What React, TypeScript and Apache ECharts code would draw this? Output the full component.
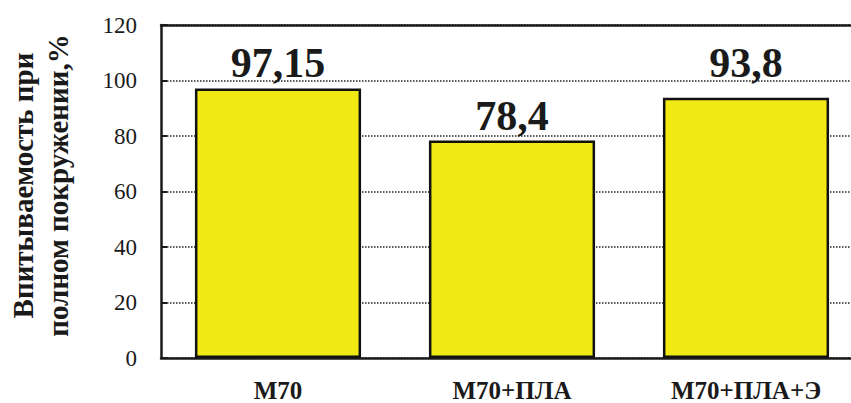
import React, { useEffect, useRef } from "react";
import * as echarts from "echarts";

const categories = ["M70", "M70+ПЛА", "M70+ПЛА+Э"];
const values = [97.15, 78.4, 93.8];
const valueLabels = ["97,15", "78,4", "93,8"];
const yTitle = "Впитываемость при\nполном покружении,%";

const FONT = "serif";

export default function App() {
  const ref = useRef<HTMLDivElement>(null);
  useEffect(() => {
    if (!ref.current) return;
    const chart = echarts.init(ref.current, null, { renderer: "svg" });
    const labelDist = [4, 3, 14];
    chart.setOption({
      animation: false,
      backgroundColor: "#ffffff",
      textStyle: { fontFamily: FONT },
      grid: { left: 161, top: 25, bottom: 45, right: 0, outerBoundsMode: "none", containLabel: false },
      xAxis: [
        {
          type: "category",
          data: categories,
          axisLine: { show: true, lineStyle: { color: "#1a1a1a", width: 2.5 } },
          axisTick: { show: false },
          axisLabel: {
            margin: 20,
            fontFamily: FONT,
            fontWeight: "bold",
            fontSize: 25,
            color: "#1a1a1a",
          },
        },
        {
          type: "category",
          position: "top",
          data: categories,
          axisLine: { show: true, lineStyle: { color: "#1a1a1a", width: 2.5 } },
          axisTick: { show: false },
          axisLabel: { show: false },
        },
      ],
      yAxis: {
        type: "value",
        min: 0,
        max: 120,
        interval: 20,
        axisLine: { show: true, lineStyle: { color: "#1a1a1a", width: 2.5 } },
        axisTick: { show: true, inside: true, length: 6, lineStyle: { color: "#1a1a1a", width: 2 } },
        axisLabel: {
          margin: 24,
          fontFamily: FONT,
          fontSize: 23,
          color: "#1a1a1a",
        },
        splitLine: {
          show: true,
          lineStyle: { color: "#222", width: 1.5, type: [1.5, 1.5] },
        },
        name: yTitle,
        nameLocation: "middle",
        nameRotate: 90,
        nameGap: 86,
        nameTextStyle: {
          fontFamily: FONT,
          fontWeight: "bold",
          fontSize: 29,
          lineHeight: 35,
          color: "#1a1a1a",
          padding: [0, 0, 0, 12],
        },
      },
      series: [
        {
          type: "bar",
          xAxisIndex: 0,
          barWidth: "71%",
          data: values.map((v, i) => ({
            value: v,
            label: { distance: labelDist[i] },
          })),
          itemStyle: { color: "#F0E914", borderColor: "#111", borderWidth: 2.5 },
          label: {
            show: true,
            position: "top",
            formatter: (p: any) => valueLabels[p.dataIndex],
            fontFamily: FONT,
            fontWeight: "bold",
            fontSize: 42,
            color: "#1a1a1a",
          },
        },
      ],
    });
    return () => chart.dispose();
  }, []);
  return (
    <div
      ref={ref}
      style={{ position: "fixed", left: 0, top: 0, width: 863, height: 403 }}
    />
  );
}
